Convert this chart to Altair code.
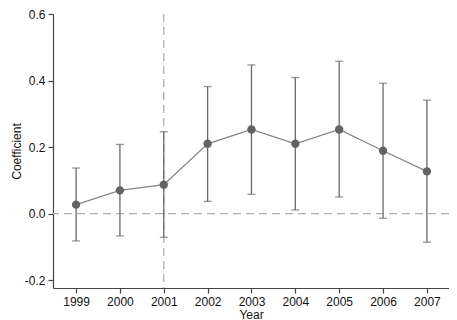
import altair as alt
import pandas as pd

years = [1999, 2000, 2001, 2002, 2003, 2004, 2005, 2006, 2007]
coef = [0.027, 0.070, 0.087, 0.210, 0.253, 0.210, 0.253, 0.189, 0.127]
lower = [-0.082, -0.067, -0.071, 0.037, 0.058, 0.011, 0.050, -0.014, -0.086]
upper = [0.137, 0.208, 0.246, 0.382, 0.447, 0.409, 0.458, 0.392, 0.341]
event_year = [2001]
zero_line = [0.0]
y_ticks = [-0.2, 0.0, 0.2, 0.4, 0.6]

df = pd.DataFrame({"Year": years, "Coefficient": coef, "lo": lower, "hi": upper})

FONT = "Liberation Sans"
xscale = alt.Scale(domain=[1998.474, 2007.504], nice=False, zero=False)
yscale = alt.Scale(domain=[-0.2235, 0.6], nice=False, zero=False)

xaxis = alt.Axis(values=years, format="d", title="Year", grid=False,
                 tickSize=5, labelPadding=3, titlePadding=2)
yaxis = alt.Axis(values=y_ticks, format=".1f", title="Coefficient",
                 labelExpr="replace(datum.label, '\u2212', '-')",
                 grid=False, tickSize=5, labelPadding=3, titlePadding=1)

base = alt.Chart(df)

x = alt.X("Year:Q", scale=xscale, axis=xaxis)

hline = alt.Chart(pd.DataFrame({"y": zero_line})).mark_rule(
    color="#b0b0b0", strokeDash=[8, 5], strokeWidth=1.3
).encode(y=alt.Y("y:Q", scale=yscale, axis=yaxis))

vline = alt.Chart(pd.DataFrame({"x": event_year})).mark_rule(
    color="#b0b0b0", strokeDash=[8, 5], strokeWidth=1.3
).encode(x=alt.X("x:Q", scale=xscale, axis=xaxis))

bars = base.mark_rule(color="#6a6a6a", strokeWidth=1.3).encode(
    x=x, y=alt.Y("lo:Q", scale=yscale, axis=yaxis), y2="hi:Q"
)
cap_lo = base.mark_tick(color="#6a6a6a", orient="horizontal", size=8, thickness=1.3).encode(
    x=x, y=alt.Y("lo:Q", scale=yscale, axis=yaxis)
)
cap_hi = base.mark_tick(color="#6a6a6a", orient="horizontal", size=8, thickness=1.3).encode(
    x=x, y=alt.Y("hi:Q", scale=yscale, axis=yaxis)
)
line = base.mark_line(color="#858585", strokeWidth=1.3).encode(
    x=x, y=alt.Y("Coefficient:Q", scale=yscale, axis=yaxis)
)
pts = base.mark_circle(color="#636363", opacity=1, size=70).encode(
    x=x, y=alt.Y("Coefficient:Q", scale=yscale, axis=yaxis)
)

chart = alt.layer(hline, vline, bars, cap_lo, cap_hi, line, pts).properties(
    width=396, height=274,
    autosize=alt.AutoSizeParams(type="none"),
    padding={"left": 45, "top": 6, "right": 0, "bottom": 32},
).configure_view(stroke=None).configure_axis(
    domainColor="#444444", tickColor="#444444", labelColor="#111111",
    titleColor="#111111", labelFont=FONT, titleFont=FONT,
    labelFontSize=12, titleFontSize=12, titleFontWeight="normal",
    domainWidth=1.2, tickWidth=1.2,
)

chart.save("out.html", embed_options={"renderer": "svg", "actions": False})
